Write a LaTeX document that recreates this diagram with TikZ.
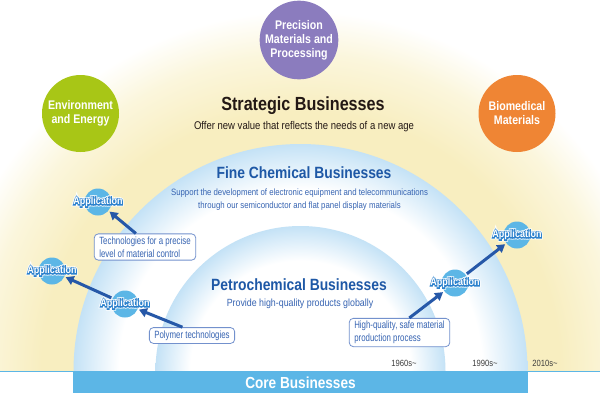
\documentclass[tikz,border=0pt]{standalone}
\usepackage{fontspec}
\setmainfont{Liberation Sans}[FakeStretch=0.85]
\newfontfamily\boxfont{Liberation Sans}[FakeStretch=0.75]
\usepackage{tikz}
\usetikzlibrary{arrows.meta}

\definecolor{precisionpurple}{RGB}{139,124,190}
\definecolor{envgreen}{RGB}{168,198,22}
\definecolor{bioorange}{RGB}{239,133,52}
\definecolor{appblue}{RGB}{92,182,230}
\definecolor{appedge}{RGB}{45,130,205}
\definecolor{arrowblue}{RGB}{38,88,168}
\definecolor{titleblue}{RGB}{30,88,166}
\definecolor{textblue}{RGB}{55,100,178}
\definecolor{boxedge}{RGB}{115,145,205}
\definecolor{rimblue}{RGB}{196,226,246}
\definecolor{glowyellow}{RGB}{248,238,192}
\definecolor{glowpale}{RGB}{251,246,220}
\definecolor{darktitle}{RGB}{35,24,21}
\definecolor{yeargray}{RGB}{60,60,60}

\pgfdeclareradialshading{yellowglow}{\pgfpoint{0bp}{0bp}}{color(0bp)=(glowyellow); color(18bp)=(glowyellow); color(22bp)=(glowpale); color(25bp)=(white); color(50bp)=(white)}
\pgfdeclareradialshading{fineglow}{\pgfpoint{0bp}{0bp}}{color(0bp)=(white); color(20bp)=(white); color(25bp)=(rimblue); color(50bp)=(rimblue)}
\pgfdeclareradialshading{petroglow}{\pgfpoint{0bp}{0bp}}{color(0bp)=(white); color(19bp)=(white); color(25bp)=(rimblue); color(50bp)=(rimblue)}

% white letters over a blue rim over a white halo
\newcommand{\apptxt}[1]{%
  \rlap{\color{white}\special{pdf:literal direct 1 Tr 3.4 w}#1\special{pdf:literal direct 0 Tr}}%
  \rlap{\color{appedge}\special{pdf:literal direct 1 Tr 1.8 w}#1\special{pdf:literal direct 0 Tr}}%
  {\color{white}#1}}

\begin{document}
\begin{tikzpicture}[x=1pt,y=-1pt,
    bizcircle/.style={circle, minimum size=77pt, inner sep=0pt, text=white, align=center,
      font=\bfseries\fontsize{12.5}{14}\selectfont},
    appdot/.style={circle, fill=appblue, minimum size=27pt, inner sep=0pt, outer sep=1.5pt},
    apptext/.style={inner sep=0pt, font=\bfseries\fontsize{10.6}{11}\selectfont},
    techbox/.style={draw=boxedge, fill=white, rounded corners=4pt, line width=0.8pt,
      text=textblue, align=left, inner xsep=5pt, inner ysep=3pt,
      font=\boxfont\fontsize{10.5}{12.5}\selectfont},
    yearlabel/.style={text=yeargray, inner sep=0pt, font=\fontsize{9}{10}\selectfont},
    apparrow/.style={draw=arrowblue, line width=3pt, -{Triangle[length=8pt,width=9pt]}}]
  \useasboundingbox (0,0) rectangle (600,405);

  % Background
  \begin{scope}
    \clip (0,0) rectangle (600,371);
    \shade[shading=yellowglow] (300.5,371) circle (360pt);
    \shade[shading=fineglow] (300.5,371) circle (227pt);
    \shade[shading=petroglow] (300.5,371) circle (145pt);
  \end{scope}
  \draw[appblue, line width=1pt] (0,371) -- (600,371);

  % Nodes
  \node[fill=appblue, minimum width=455pt, minimum height=21pt, inner sep=0pt, text=white,
    font=\bfseries\fontsize{16}{18}\selectfont] (core) at (300.5,382.5) {Core Businesses};

  \node[bizcircle, fill=precisionpurple] (precision) at (299,40) {Precision\\Materials and\\Processing};
  \node[bizcircle, fill=envgreen] (environment) at (80.5,113.5) {Environment\\and Energy};
  \node[bizcircle, fill=bioorange] (biomedical) at (517,113.5) {Biomedical\\Materials};

  \node[text=darktitle, font=\bfseries\fontsize{19}{22}\selectfont] (strategic) at (303,106) {Strategic Businesses};
  \node[text=darktitle, font=\fontsize{11.2}{13}\selectfont] (strategicsub) at (304,127) {Offer new value that reflects the needs of a new age};

  \node[text=titleblue, font=\bfseries\fontsize{16.3}{18}\selectfont] (fine) at (304,173) {Fine Chemical Businesses};
  \node[text=textblue, align=center, font=\fontsize{9.2}{13}\selectfont] (finesub) at (299.5,199.5)
    {Support the development of electronic equipment and telecommunications\\through our semiconductor and flat panel display materials};

  \node[text=titleblue, font=\bfseries\fontsize{16.3}{18}\selectfont] (petro) at (299,285) {Petrochemical Businesses};
  \node[text=textblue, font=\fontsize{10.4}{12}\selectfont] (petrosub) at (300,304) {Provide high-quality products globally};

  \node[techbox] (tech) at (145,247) {Technologies for a precise\\level of material control};
  \node[techbox] (poly) at (192,335.5) {Polymer technologies};
  \node[techbox] (hq) at (399.5,332.5) {High-quality, safe material\\production process};

  \node[appdot] (app1) at (98,202) {};
  \node[appdot] (app2) at (52,271) {};
  \node[appdot] (app3) at (125,304) {};
  \node[appdot] (app4) at (455,283) {};
  \node[appdot] (app5) at (517,235) {};
  \node[apptext] (app1text) at (app1) {\apptxt{Application}};
  \node[apptext] (app2text) at (app2) {\apptxt{Application}};
  \node[apptext] (app3text) at (app3) {\apptxt{Application}};
  \node[apptext] (app4text) at (app4) {\apptxt{Application}};
  \node[apptext] (app5text) at (app5) {\apptxt{Application}};

  \node[yearlabel] (y1960) at (404,363) {1960s\textasciitilde};
  \node[yearlabel] (y1990) at (485,363) {1990s\textasciitilde};
  \node[yearlabel] (y2010) at (545,363) {2010s\textasciitilde};

  % Edges
  \draw[apparrow] (tech.124) -- (app1);
  \draw[apparrow] (app3) -- (app2);
  \draw[apparrow] (poly.139) -- (app3);
  \draw[apparrow] (hq.56) -- (app4);
  \draw[apparrow] (app4) -- (app5);
\end{tikzpicture}
\end{document}
